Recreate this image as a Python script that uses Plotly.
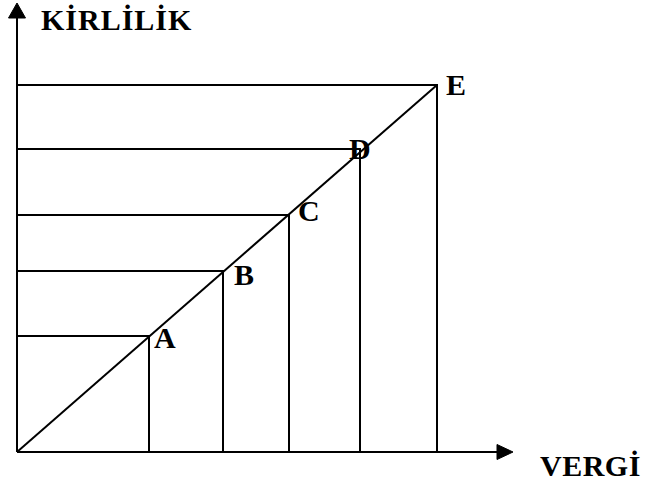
import plotly.graph_objects as go

points = ["A", "B", "C", "D", "E"]
vergi = [132, 206, 272, 343, 420]       # x values
kirlilik = [116, 181, 237, 303, 367]    # y values
x_title = "VERGİ"
y_title = "KİRLİLİK"

# Label offsets (pixels) relative to each point, styling only
label_dx = [16, 21, 20, 0, 19]
label_dy = [-1, -3, 5, 1, 1]

FONT = "Liberation Serif, Times New Roman, serif"
LW = 2

fig = go.Figure()

# drop lines (horizontal to y-axis, vertical to x-axis)
hx, hy = [], []
for xv, yv in zip(vergi, kirlilik):
    hx += [0, xv, xv, None]
    hy += [yv, yv, 0, None]
fig.add_trace(go.Scatter(x=hx, y=hy, mode="lines",
                         line=dict(color="black", width=LW), hoverinfo="skip"))

# diagonal line from origin to the last point
fig.add_trace(go.Scatter(x=[0, vergi[-1]], y=[0, kirlilik[-1]], mode="lines",
                         line=dict(color="black", width=LW), hoverinfo="skip"))

# axes drawn as arrows
x_end = 496
y_end = 449
shapes = [
    dict(type="line", xref="x", yref="y", x0=0, y0=0, x1=x_end - 14, y1=0,
         line=dict(color="black", width=LW)),
    dict(type="line", xref="x", yref="y", x0=0, y0=0, x1=0, y1=y_end - 14,
         line=dict(color="black", width=LW)),
    dict(type="path", xref="x", yref="y",
         path=f"M {x_end} 0 L {x_end-16} 7.5 L {x_end-16} -7.5 Z",
         fillcolor="black", line=dict(color="black", width=1)),
    dict(type="path", xref="x", yref="y",
         path=f"M 0 {y_end} L -8.5 {y_end-15} L 8.5 {y_end-15} Z",
         fillcolor="black", line=dict(color="black", width=1)),
]

annotations = []
for name, xv, yv, dx, dy in zip(points, vergi, kirlilik, label_dx, label_dy):
    annotations.append(dict(x=xv, y=yv, xref="x", yref="y", text=f"<b>{name}</b>",
                            showarrow=False, xanchor="center", yanchor="middle",
                            xshift=dx, yshift=dy,
                            font=dict(family=FONT, size=30, color="black")))

annotations.append(dict(x=99, y=433, xref="x", yref="y",
                        text=f'<b><span style="letter-spacing:1px">{y_title}</span></b>',
                        showarrow=False, xanchor="center", yanchor="middle",
                        font=dict(family=FONT, size=30, color="black")))
annotations.append(dict(x=573, y=-13, xref="x", yref="y",
                        text=f'<b><span style="letter-spacing:0.5px">{x_title}</span></b>',
                        showarrow=False, xanchor="center", yanchor="middle",
                        font=dict(family=FONT, size=30, color="black")))

fig.update_layout(
    width=645, height=483,
    margin=dict(l=0, r=0, t=0, b=0),
    paper_bgcolor="white", plot_bgcolor="white",
    showlegend=False,
    xaxis=dict(range=[-17, 628], visible=False, fixedrange=True),
    yaxis=dict(range=[-31, 452], visible=False, fixedrange=True),
    shapes=shapes,
    annotations=annotations,
)

fig.write_html("out.html",
               config=dict(displayModeBar=False),
               post_script="document.body.style.margin='0';document.body.style.overflow='hidden';")
